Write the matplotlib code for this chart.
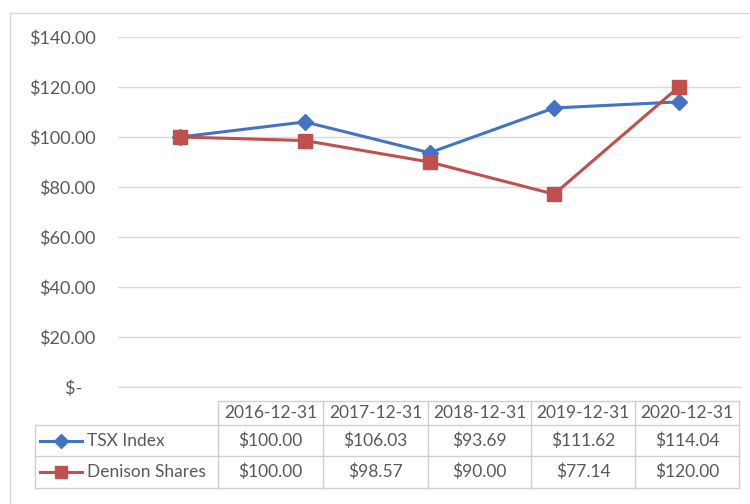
import matplotlib.pyplot as plt
from matplotlib.ticker import FuncFormatter

# Data
dates = ['2016-12-31', '2017-12-31', '2018-12-31', '2019-12-31', '2020-12-31']
tsx = [100.00, 106.03, 93.69, 111.62, 114.04]
denison = [100.00, 98.57, 90.00, 77.14, 120.00]
series_names = ['TSX Index', 'Denison Shares']
y_ticks = [0, 20, 40, 60, 80, 100, 120, 140]

blue = '#4472C4'
red = '#C0504D'
grey_text = '#595959'
grid_col = '#D9D9D9'

plt.rcParams['font.family'] = ['Lato', 'DejaVu Sans']

W, H = 750, 504
fig = plt.figure(figsize=(W / 100, H / 100), dpi=100)

# pixel helper for figure placement
def px_box(x0, y0, x1, y1):
    return [x0 / W, 1 - y1 / H, (x1 - x0) / W, (y1 - y0) / H]

ax = fig.add_axes(px_box(118, 37, 741, 387))
x = list(range(len(dates)))
ax.plot(x, tsx, color=blue, lw=2.2, marker='D', ms=8, zorder=3)
ax.plot(x, denison, color=red, lw=2.2, marker='s', ms=10, zorder=3)

ax.set_xlim(-0.5, len(dates) - 0.5)
ax.set_ylim(0, 140)
ax.set_yticks(y_ticks)
ax.yaxis.set_major_formatter(FuncFormatter(lambda v, p: '$-   ' if v == 0 else f'${v:,.2f}'))
ax.tick_params(axis='y', length=0, pad=16, labelsize=13, labelcolor=grey_text)
ax.set_xticks([])
ax.grid(axis='y', color=grid_col, lw=1)
ax.set_axisbelow(True)
for s in ['top', 'left', 'right']:
    ax.spines[s].set_visible(False)
ax.spines['bottom'].set_color(grid_col)

# overlay in pixel coordinates for the frame and the data table
ov = fig.add_axes([0, 0, 1, 1], zorder=-1)
ov.set_xlim(0, W)
ov.set_ylim(H, 0)
ov.axis('off')
ov.plot([10, 10], [13, H + 5], color=grid_col, lw=1)
ov.plot([10, W + 5], [13, 13], color=grid_col, lw=1)

tab = fig.add_axes([0, 0, 1, 1])
tab.set_xlim(0, W)
tab.set_ylim(H, 0)
tab.axis('off')
tab.patch.set_alpha(0)

col_edges = [218, 323, 428, 531, 635, 739]
row_edges = [401, 425, 456, 488]
leg_left = 35
line_col = '#D0D0D0'

# header box
tab.plot([col_edges[0], col_edges[-1]], [row_edges[0]] * 2, color=line_col, lw=1)
for yy in row_edges[1:]:
    tab.plot([leg_left, col_edges[-1]], [yy, yy], color=line_col, lw=1)
tab.plot([leg_left, leg_left], [row_edges[1], row_edges[-1]], color=line_col, lw=1)
for xx in col_edges:
    tab.plot([xx, xx], [row_edges[0], row_edges[-1]], color=line_col, lw=1)

for i, d in enumerate(dates):
    cx = (col_edges[i] + col_edges[i + 1]) / 2
    tab.text(cx, (row_edges[0] + row_edges[1]) / 2, d, ha='center', va='center',
             fontsize=12.5, color=grey_text)

for r, (name, vals, col, mk, ms) in enumerate(zip(series_names, [tsx, denison], [blue, red],
                                                  ['D', 's'], [7, 9])):
    cy = (row_edges[r + 1] + row_edges[r + 2]) / 2
    tab.plot([40, 82], [cy, cy], color=col, lw=2.2, marker=None)
    tab.plot([61], [cy], color=col, marker=mk, ms=ms, lw=0)
    tab.text(87, cy, name, ha='left', va='center', fontsize=12.5, color=grey_text)
    for i, v in enumerate(vals):
        cx = (col_edges[i] + col_edges[i + 1]) / 2
        tab.text(cx, cy, f'${v:,.2f}', ha='center', va='center', fontsize=12.5, color=grey_text)

fig.savefig('out.png', dpi=100)
